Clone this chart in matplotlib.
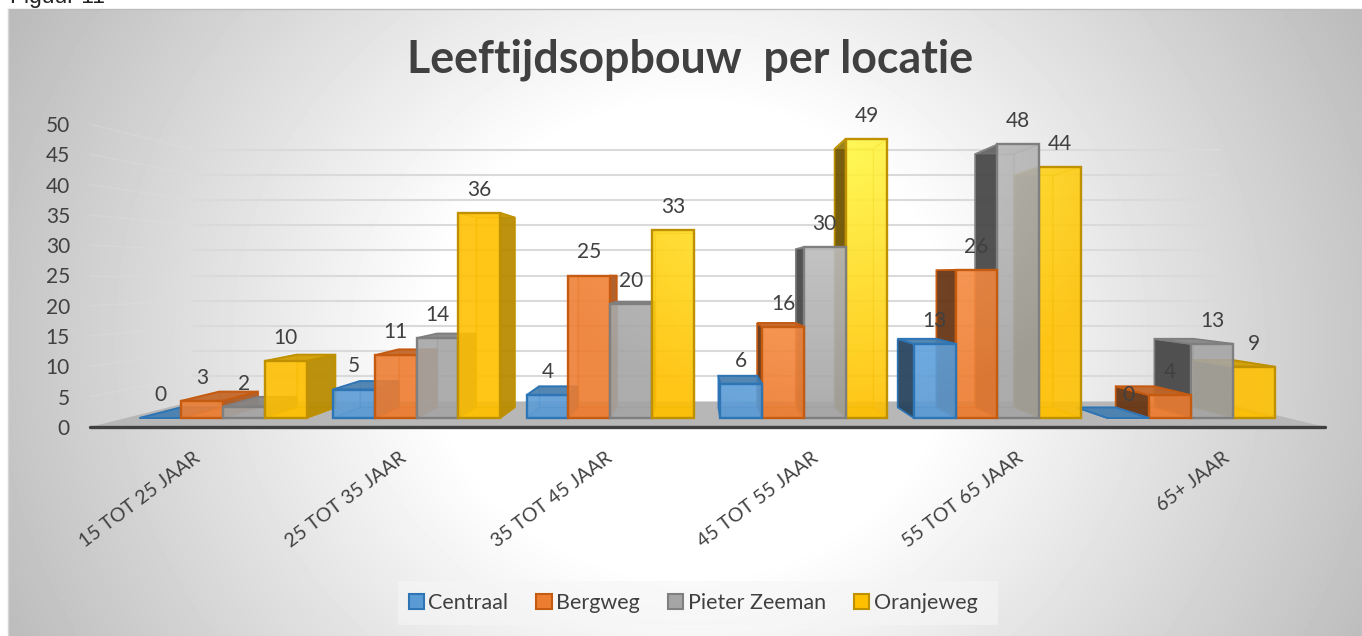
import numpy as np
import matplotlib
matplotlib.use("Agg")
import matplotlib.pyplot as plt
from matplotlib.patches import Patch, Polygon, Rectangle

plt.rcParams["font.family"] = ["Lato", "DejaVu Sans"]

# data
categories = ["15 TOT 25 JAAR", "25 TOT 35 JAAR", "35 TOT 45 JAAR",
              "45 TOT 55 JAAR", "55 TOT 65 JAAR", "65+ JAAR"]
series_names = ["Centraal", "Bergweg", "Pieter Zeeman", "Oranjeweg"]
centraal = [0, 5, 4, 6, 13, 0]
bergweg = [3, 11, 25, 16, 26, 4]
pieter_zeeman = [2, 14, 20, 30, 48, 13]
oranjeweg = [10, 36, 33, 49, 44, 9]
y_ticks = [0, 5, 10, 15, 20, 25, 30, 35, 40, 45, 50]

face_colors = ["#5B9BD5", "#ED7D31", "#A5A5A5", "#FFC000"]
edge_colors = ["#2E75B6", "#C55A11", "#7F7F7F", "#BF9000"]
light_adds = [(0.1, 0.13, 0.17), (0.1, 0.16, 0.2), (0.16, 0.16, 0.16), (0.05, 0.24, 0.3)]
text_color = "#404040"

W, H = 1362, 636
PX_X = 193.6  # pixels per category
PX_Y = 5.7    # pixels per value unit in the front plane of the bars
X0_PX, Y0_PX = 223.0, 418.0

# perspective: vanishing point and scale of each depth plane
VP_X = (696 - X0_PX) / PX_X
VP_Y = 25.0
K_AXIS = 1.063
K_FRONT = 1.0
K_BACK = 0.926
K_WALL = 0.884
BAR_W = 0.216


def project(x, v, k):
    return VP_X + (x - VP_X) * k, VP_Y + (v - VP_Y) * k


fig = plt.figure(figsize=(W / 100, H / 100), dpi=100, facecolor="white")

# background panel with a soft radial gradient
bg = fig.add_axes([8 / W, 0, 1 - 8 / W, 1 - 9 / H])
yy, xx = np.mgrid[9:636:200j, 8:1362:400j]
d = np.sqrt(((xx - 690) / 680) ** 2 + ((yy - 340) / 620) ** 2)
grey = 255 - 66 * np.clip(d - 0.38, 0, None) / 0.72
bg.imshow(grey, cmap="gray", vmin=0, vmax=255, aspect="auto", interpolation="bilinear")
bg.axis("off")
fig.add_artist(plt.Line2D([8 / W, 1], [1 - 9 / H, 1 - 9 / H], color="#BDBDBD", lw=1))
fig.add_artist(plt.Line2D([8 / W, 8 / W], [0, 1 - 9 / H], color="#D5D5D5", lw=1))
# caption sits partly above the page edge, as in the original screenshot
fig.text(10 / W, 1 - 3 / H, "Figuur 11", family="Liberation Sans", fontsize=16.5,
         color="#222222", ha="left", va="baseline")

ax = fig.add_axes([0, 0, 1, 1])
ax.patch.set_alpha(0)
ax.axis("off")
xlim = (-X0_PX / PX_X, (W - X0_PX) / PX_X)
ylim = ((Y0_PX - H) / PX_Y, Y0_PX / PX_Y)


def light(x, y):
    # highlight around the tall centre bars
    dist = np.sqrt(((x - 3.1) * PX_X / 330) ** 2 + ((y - 52) * PX_Y / 300) ** 2)
    return np.clip(1 - dist, 0, 1)


zorder = [3.0]


def draw_face(pts, rgb, alpha, edge, add, lw=1.4, edge_alpha=1.0):
    zorder[0] += 0.01
    pts = np.array(pts)
    x0, x1 = pts[:, 0].min(), pts[:, 0].max()
    y0, y1 = pts[:, 1].min(), pts[:, 1].max()
    poly = Polygon(pts, closed=True, fc="none", ec="none", zorder=zorder[0])
    ax.add_patch(poly)
    if x1 - x0 > 1e-6 and y1 - y0 > 1e-6:
        gy, gx = np.mgrid[y0:y1:24j, x0:x1:24j]
        amt = light(gx, gy)
        img = np.zeros(gx.shape + (4,))
        for i in range(3):
            img[..., i] = np.clip(rgb[i] + add[i] * amt, 0, 1)
        img[..., 3] = alpha
        im = ax.imshow(img, extent=(x0, x1, y0, y1), origin="lower", aspect="auto",
                       interpolation="bilinear", zorder=zorder[0])
        im.set_clip_path(poly)
    ax.add_patch(Polygon(pts, closed=True, fc="none", ec=edge, lw=lw, alpha=edge_alpha,
                         joinstyle="miter", zorder=zorder[0] + 0.001))


def draw_bar(x0, v, s):
    color, edge, add = face_colors[s], edge_colors[s], light_adds[s]
    x1 = x0 + BAR_W
    base = np.array(matplotlib.colors.to_rgb(color))
    fb = [project(x0, 0, K_FRONT), project(x1, 0, K_FRONT)]
    ft = [project(x0, v, K_FRONT), project(x1, v, K_FRONT)]
    bb = [project(x0, 0, K_BACK), project(x1, 0, K_BACK)]
    bt = [project(x0, v, K_BACK), project(x1, v, K_BACK)]

    left_face = [fb[0], ft[0], bt[0], bb[0]]
    right_face = [fb[1], ft[1], bt[1], bb[1]]
    top_face = [ft[0], ft[1], bt[1], bt[0]]
    floor_face = [fb[0], fb[1], bb[1], bb[0]]
    back_face = [bb[0], bb[1], bt[1], bt[0]]
    mid = x0 + BAR_W / 2

    draw_face(back_face, base, 0.35, edge, add, lw=0.8, edge_alpha=0.45)
    draw_face(floor_face, base, 0.55, edge, add, lw=0.8, edge_alpha=0.45)
    if mid < VP_X:
        hidden, seen, dark = left_face, right_face, 0.72
    else:
        hidden, seen, dark = right_face, left_face, 0.42
    draw_face(hidden, base, 0.22, edge, add, lw=0.8, edge_alpha=0.45)
    if x1 < VP_X or x0 > VP_X:
        draw_face(seen, base * dark, 0.92, edge, (0, 0, 0), lw=1.2)
    if v < VP_Y:
        draw_face(top_face, base * 0.82, 0.92, edge, (0, 0, 0), lw=1.4)
    else:
        draw_face(top_face, base * 0.9, 0.3, edge, add, lw=0.8, edge_alpha=0.45)
    if v > 0:
        draw_face([fb[0], fb[1], ft[1], ft[0]], base, 0.86, edge, add, lw=1.7)


# floor of the chart
x_left = (90 - X0_PX) / PX_X
x_right = (1325 - X0_PX) / PX_X
wall_left = VP_X + (x_left - VP_X) * K_WALL / K_AXIS
wall_right = VP_X + (x_right - VP_X) * K_WALL / K_AXIS
fl_y_front = VP_Y - VP_Y * K_AXIS
fl_y_back = VP_Y - VP_Y * K_WALL
ax.add_patch(Polygon([(x_left, fl_y_front), (x_right, fl_y_front),
                      (wall_right, fl_y_back), (wall_left, fl_y_back)],
                     closed=True, fc="#B7B7B7", ec="none", zorder=1.5))

# gridlines on the back wall and the left wall
for t in y_ticks[1:]:
    yb = VP_Y + (t - VP_Y) * K_WALL
    yf = VP_Y + (t - VP_Y) * K_AXIS
    ax.plot([wall_left, wall_right], [yb, yb], color="#DADADA", lw=1.5, zorder=1.2)
    ax.plot([x_left, wall_left], [yf, yb], color="#E0E0E0", lw=1.0, alpha=0.35, zorder=1.2)
    ax.text((70 - X0_PX) / PX_X, yf, str(t), ha="right", va="center_baseline",
            fontsize=15, color=text_color, zorder=6)
ax.text((70 - X0_PX) / PX_X, fl_y_front, "0", ha="right", va="center_baseline",
        fontsize=15, color=text_color, zorder=6)
ax.plot([x_left, x_right], [fl_y_front, fl_y_front], color="#404040", lw=2.4,
        solid_capstyle="round", zorder=2)

# bars: outermost first so the ones nearer the centre overlap them
all_series = [centraal, bergweg, pieter_zeeman, oranjeweg]
bars = []
for s, vals in enumerate(all_series):
    for c, v in enumerate(vals):
        x0 = c + (s - 2) * BAR_W
        bars.append((abs(x0 + BAR_W / 2 - VP_X), x0, v, s))
bars.sort(key=lambda b: -b[0])
for _, x0, v, s in bars:
    draw_bar(x0, v, s)

# value labels
for _, x0, v, s in bars:
    ax.text(x0 + BAR_W / 2, v + 4.4, str(v), ha="center", va="center_baseline",
            fontsize=15, color=text_color, zorder=7)

# category labels
for c, name in enumerate(categories):
    lx, _ = project(c, 0, K_AXIS)
    ax.text(lx, (Y0_PX - 449) / PX_Y, name, rotation=37, rotation_mode="anchor",
            ha="right", va="top", fontsize=14, color=text_color, zorder=6)

ax.text((690 - X0_PX) / PX_X, (Y0_PX - 60) / PX_Y, "Leeftijdsopbouw  per locatie",
        ha="center", va="center", fontsize=32.2, fontweight="bold", color=text_color, zorder=6)

handles = [Patch(facecolor=f, edgecolor=e, lw=1.5) for f, e in zip(face_colors, edge_colors)]
ax.add_patch(Rectangle(((398 - X0_PX) / PX_X, (Y0_PX - 625) / PX_Y), 600 / PX_X, 44 / PX_Y,
                       fc="#F6F6F6", ec="none", alpha=0.6, zorder=5))
leg = ax.legend(handles, series_names, ncol=4, loc="center", frameon=False,
                bbox_to_anchor=(693 / W, 1 - 603 / H), fontsize=15.5, labelcolor=text_color,
                handlelength=0.72, handleheight=0.72, handletextpad=0.2, columnspacing=1.3)
leg.set_zorder(8)

ax.set_xlim(xlim)
ax.set_ylim(ylim)

fig.savefig("out.png", dpi=100)
